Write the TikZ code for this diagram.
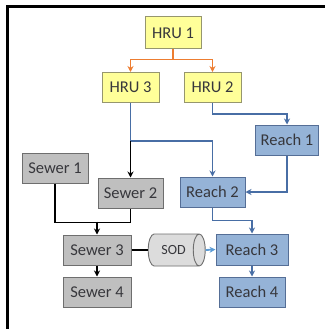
\documentclass[tikz,border=0pt]{standalone}
\usepackage{fontspec}
\setmainfont{Carlito}
\usetikzlibrary{arrows.meta,shapes.geometric,calc}
\definecolor{orln}{RGB}{237,125,49}
\definecolor{blln}{RGB}{72,110,165}
\definecolor{ltbl}{RGB}{91,155,213}
\definecolor{yfill}{RGB}{255,255,153}
\definecolor{ydraw}{RGB}{150,150,110}
\definecolor{gfill}{RGB}{191,191,191}
\definecolor{gdraw}{RGB}{110,110,110}
\definecolor{bfill}{RGB}{149,179,215}
\definecolor{bdraw}{RGB}{85,110,150}
\definecolor{sfill}{RGB}{220,220,220}
\definecolor{txt}{RGB}{55,55,60}
\tikzset{
  boxbase/.style={rectangle, inner sep=0pt, line width=1pt, text=txt,
    font=\fontsize{16.5}{17}\selectfont},
  hru/.style={boxbase, fill=yfill, draw=ydraw, minimum width=57pt, minimum height=30pt},
  sew/.style={boxbase, fill=gfill, draw=gdraw, minimum width=66pt, minimum height=30pt},
  rch/.style={boxbase, fill=bfill, draw=bdraw, minimum width=65pt, minimum height=30pt},
  oline/.style={draw=orln, line width=1.8pt},
  bline/.style={draw=blln, line width=1.8pt},
  kline/.style={draw=black, line width=1.9pt},
  tip/.style={-{Stealth[length=6pt,width=6pt]}},
}
\begin{document}
\begin{tikzpicture}[x=1pt,y=-1pt]
\useasboundingbox (0,0) rectangle (325,329);
\draw[line width=2.2pt] (7.5,329) -- (7.5,6.5) -- (325,6.5);

\node[hru, minimum width=56pt, minimum height=32pt] (h1) at (173,33) {HRU 1};
\node[hru] (h3) at (130.5,87.5) {HRU 3};
\node[hru] (h2) at (212.5,87.5) {HRU 2};
\node[rch, minimum width=63pt] (r1) at (287,140) {Reach 1};
\node[rch] (r2) at (212.5,192) {Reach 2};
\node[sew] (s1) at (55,168) {Sewer 1};
\node[sew, minimum width=65pt] (s2) at (130.5,193) {Sewer 2};
\node[sew, minimum width=68pt] (s3) at (97,250) {Sewer 3};
\node[sew, minimum width=68pt] (s4) at (97,292) {Sewer 4};
\node[rch, minimum width=72pt, minimum height=31pt] (r3) at (252,249.5) {Reach 3};
\node[rch, minimum width=66pt] (r4) at (252,292) {Reach 4};
\node[cylinder, shape aspect=1.3, minimum width=32pt, minimum height=57pt,
  inner sep=0pt, fill=sfill, draw=gdraw, line width=0.9pt, text=txt,
  font=\fontsize{14}{14}\selectfont, cylinder uses custom fill,
  cylinder body fill=sfill, cylinder end fill=sfill!85!gray] (sod) at (173.5,250) {SOD\hspace{14pt}};

% orange
\draw[oline,tip] (h1.south) -- ++(0,10) -| (h3.north);
\draw[oline,tip] (h1.south) -- ++(0,10) -| (h2.north);
% HRU2 -> Reach1
\draw[bline,tip] (h2.south) -- ++(0,11) -| (r1.north);
% HRU3 branch
\coordinate (j1) at ($(h3.south)+(0,38)$);
\draw[bline] (h3.south) -- (j1);
\draw[bline,tip] (j1) -| (r2.north);
\draw[kline,tip] (j1) -- (s2.north);
% Reach1 -> Reach2
\draw[bline,tip] (r1.south) |- (r2.east);
% Sewers
\draw[kline] (s1.south) -- ++(0,39) -| (s2.south);
\coordinate (j2) at ($(s3.north)+(0,-13)$);
\draw[kline,tip] (j2) -- (s3.north);
\draw[kline,tip] (s3.south) -- (s4.north);
\draw[kline] (s3.east) -- (sod.west);
% Reach
\draw[draw=ltbl, line width=1.8pt, tip] (sod.east) -- (r3.west);
\draw[bline,tip] (r2.south) -- ++(0,13) -| (r3.north);
\draw[bline,tip] (r3.south) -- (r4.north);
\end{tikzpicture}
\end{document}
